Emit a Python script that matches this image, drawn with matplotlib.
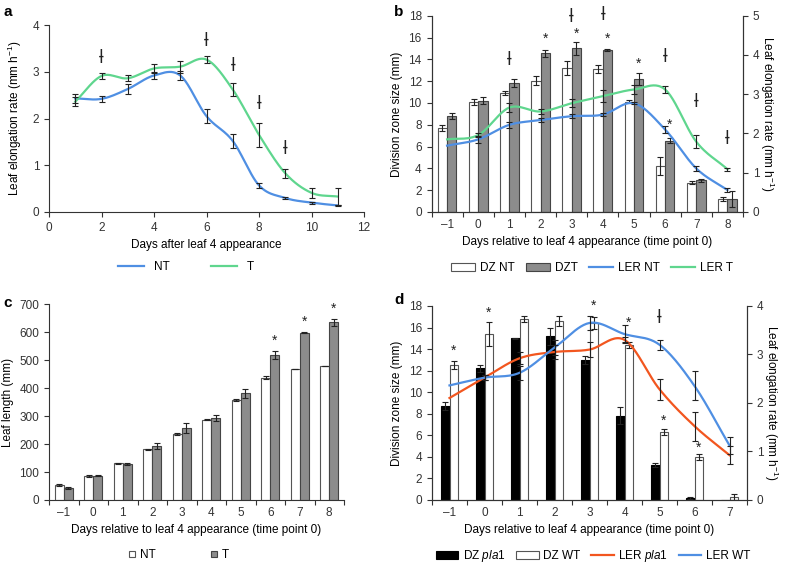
import numpy as np
import matplotlib
matplotlib.use("Agg")
import matplotlib.pyplot as plt
from matplotlib.lines import Line2D

plt.rcParams['font.family'] = ['Liberation Sans', 'DejaVu Sans']
plt.rcParams['font.size'] = 8.5
plt.rcParams['mathtext.fontset'] = 'custom'
plt.rcParams['mathtext.rm'] = 'Liberation Sans'
plt.rcParams['mathtext.it'] = 'Liberation Sans:italic'
plt.rcParams['axes.edgecolor'] = '#333333'
plt.rcParams['xtick.color'] = '#333333'
plt.rcParams['ytick.color'] = '#333333'

BLUE = '#4f8fe3'
GREEN = '#5fd68e'
ORANGE = '#f2561f'
GREY = '#8c8c8c'

# ---- panel a
days_a = [1, 2, 3, 4, 5, 6, 7, 8, 9, 10, 11]
ler_nt_a = [2.43, 2.42, 2.63, 2.92, 2.92, 2.05, 1.52, 0.57, 0.30, 0.20, 0.14]
ler_nt_a_err = [0.10, 0.07, 0.10, 0.08, 0.10, 0.15, 0.15, 0.06, 0.03, 0.02, 0.02]
ler_t_a = [2.36, 2.91, 2.86, 3.07, 3.11, 3.26, 2.62, 1.65, 0.83, 0.41, 0.33]
ler_t_a_err = [0.10, 0.07, 0.06, 0.10, 0.13, 0.08, 0.14, 0.25, 0.10, 0.10, 0.18]
dag_a_x = [2, 6, 7, 8, 9]
dag_a_y = [3.30, 3.65, 3.12, 2.30, 1.35]

# ---- panel b
days_b = [-1, 0, 1, 2, 3, 4, 5, 6, 7, 8]
dz_nt_b = [7.7, 10.1, 10.9, 12.05, 13.2, 13.1, 10.1, 4.2, 2.7, 1.2]
dz_nt_b_err = [0.25, 0.3, 0.2, 0.4, 0.65, 0.35, 0.15, 0.8, 0.15, 0.15]
dz_t_b = [8.8, 10.2, 11.8, 14.55, 15.0, 14.85, 12.15, 6.55, 2.9, 1.2]
dz_t_b_err = [0.3, 0.3, 0.35, 0.35, 0.6, 0.1, 0.55, 0.2, 0.15, 0.7]
ler_nt_b = [1.69, 1.85, 2.22, 2.34, 2.44, 2.48, 2.77, 2.10, 1.11, 0.56]
ler_nt_b_err = [0, 0.08, 0.07, 0.05, 0.05, 0.03, 0.02, 0.10, 0.07, 0.04]
ler_t_b = [1.85, 1.96, 2.66, 2.56, 2.77, 2.95, 3.12, 3.12, 1.79, 1.09]
ler_t_b_err = [0, 0.06, 0.12, 0.06, 0.10, 0.15, 0.12, 0.10, 0.17, 0.04]
dag_b_x = [1, 3, 4, 6, 7, 8]
dag_b_y = [13.9, 17.85, 18.1, 14.2, 10.05, 6.67]
star_b_x = [2, 3, 4, 5, 6]
star_b_y = [15.9, 16.3, 15.9, 13.6, 8.0]

# ---- panel c
days_c = [-1, 0, 1, 2, 3, 4, 5, 6, 7, 8]
len_nt = [54, 85, 132, 181, 236, 287, 357, 437, 468, 480]
len_nt_err = [3, 3, 2, 2, 4, 2, 3, 5, 1, 1]
len_t = [43, 87, 130, 193, 258, 294, 381, 518, 598, 635]
len_t_err = [4, 2, 4, 12, 18, 10, 15, 14, 2, 11]
star_c_x = [6, 7, 8]
star_c_y = [568, 637, 683]

# ---- panel d
days_d = [-1, 0, 1, 2, 3, 4, 5, 6, 7]
dz_pla = [8.7, 12.2, 15.0, 15.2, 13.0, 7.8, 3.2, 0.15, 0]
dz_pla_err = [0.4, 0.3, 0.05, 0.8, 0.4, 0.8, 0.2, 0.1, 0]
dz_wt = [12.5, 15.4, 16.8, 16.6, 16.45, 14.4, 6.3, 3.95, 0.25]
dz_wt_err = [0.35, 1.1, 0.3, 0.45, 0.55, 0.3, 0.25, 0.3, 0.25]
ler_pla = [2.1, 2.52, 2.92, 3.05, 3.1, 3.3, 2.28, 1.52, 0.92]
ler_pla_err = [0, 0.05, 0.12, 0.15, 0.15, 0.05, 0.22, 0.3, 0.18]
ler_wt = [2.36, 2.52, 2.62, 3.14, 3.65, 3.42, 3.2, 2.35, 1.12]
ler_wt_err = [0, 0.05, 0.15, 0.15, 0.14, 0.18, 0.1, 0.3, 0.18]
star_d_x = [-1, 0, 3, 4, 5, 6]
star_d_y = [13.8, 17.4, 18.0, 16.45, 7.3, 4.85]
dag_d_x = [5]
dag_d_y = [16.9]

W, H = 786, 562
ERR = dict(fmt='none', ecolor='#222222', elinewidth=0.8, capsize=2.2, capthick=0.8)


def box(l, t, r, b):
    return [l / W, 1 - b / H, (r - l) / W, (b - t) / H]


def smooth(x, y, n=24):
    # catmull-rom curve through the points, like the spreadsheet "smoothed line"
    x = np.asarray(x, float)
    y = np.asarray(y, float)
    px = np.concatenate([[2 * x[0] - x[1]], x, [2 * x[-1] - x[-2]]])
    py = np.concatenate([[2 * y[0] - y[1]], y, [2 * y[-1] - y[-2]]])
    t = np.linspace(0, 1, n, endpoint=False)
    xs, ys = [], []
    for i in range(1, len(px) - 2):
        for arr, out in ((px, xs), (py, ys)):
            p0, p1, p2, p3 = arr[i - 1:i + 3]
            out.append(0.5 * (2 * p1 + (p2 - p0) * t + (2 * p0 - 5 * p1 + 4 * p2 - p3) * t ** 2
                              + (3 * p1 - p0 - 3 * p2 + p3) * t ** 3))
    xs.append([x[-1]])
    ys.append([y[-1]])
    return np.concatenate(xs), np.concatenate(ys)


def marks(ax, xs, ys, sym, dx=0.0):
    for x, y in zip(xs, ys):
        if sym == '*':
            ax.text(x + dx, y, '*', ha='center', va='center', fontsize=10, color='#222222')
        else:
            ax.text(x + dx, y, '\u019a', ha='center', va='center', fontsize=12,
                    family='DejaVu Sans', color='#222222', clip_on=False)


def cat_axis(ax, cats):
    lo, hi = cats[0] - 0.5, cats[-1] + 0.5
    ax.set_xlim(lo, hi)
    ax.set_xticks(np.arange(lo, hi + 0.01, 1.0))
    ax.set_xticklabels([])
    ax.set_xticks(cats, minor=True)
    ax.set_xticklabels(['\u2013' + str(-c) if c < 0 else str(c) for c in cats], minor=True)
    ax.tick_params(axis='x', which='minor', length=0, pad=5)


def style(ax, right=False):
    ax.spines['top'].set_visible(False)
    if not right:
        ax.spines['right'].set_visible(False)
    ax.tick_params(direction='out', length=3.5, width=0.8)


fig = plt.figure(figsize=(W / 100, H / 100), dpi=100)

# ================= a
ax = fig.add_axes(box(49, 25, 364, 212))
style(ax)
xs, ys = smooth(days_a, ler_nt_a)
ax.plot(xs, ys, color=BLUE, lw=1.6, label='NT')
xs, ys = smooth(days_a, ler_t_a)
ax.plot(xs, ys, color=GREEN, lw=1.6, label='T')
ax.errorbar(days_a, ler_nt_a, yerr=ler_nt_a_err, **ERR)
ax.errorbar(days_a, ler_t_a, yerr=ler_t_a_err, **ERR)
marks(ax, dag_a_x, dag_a_y, 'dag')
ax.set_xlim(0, 12)
ax.set_ylim(0, 4)
ax.set_xticks(range(0, 13, 2))
ax.set_yticks(range(0, 5))
ax.set_xlabel('Days after leaf 4 appearance', labelpad=4)
ax.set_ylabel('Leaf elongation rate (mm h$^{-1}$)', labelpad=6)
ax.legend(loc='center', bbox_to_anchor=(186 / W, 1 - 267 / H), bbox_transform=fig.transFigure,
          ncol=2, frameon=False, handlelength=2.2, columnspacing=3.5, handletextpad=0.8)

# ================= b
ax = fig.add_axes(box(431.5, 15.7, 743, 212))
style(ax, right=True)
bx = np.array(days_b)
ax.bar(bx - 0.15, dz_nt_b, 0.3, color='white', edgecolor='#555555', lw=0.8, label='DZ NT')
ax.bar(bx + 0.15, dz_t_b, 0.3, color=GREY, edgecolor='#444444', lw=0.8, label='DZT')
ax.errorbar(bx - 0.15, dz_nt_b, yerr=dz_nt_b_err, **ERR)
ax.errorbar(bx + 0.15, dz_t_b, yerr=dz_t_b_err, **ERR)
marks(ax, dag_b_x, dag_b_y, 'dag')
marks(ax, star_b_x, star_b_y, '*', dx=0.15)
cat_axis(ax, days_b)
ax.set_ylim(0, 18)
ax.set_yticks(range(0, 19, 2))
ax.set_xlabel('Days relative to leaf 4 appearance (time point 0)', labelpad=4)
ax.set_ylabel('Division zone size (mm)', labelpad=4)
ax2 = ax.twinx()
style(ax2, right=True)
xs, ys = smooth(days_b, ler_nt_b)
ax2.plot(xs, ys, color=BLUE, lw=1.6, label='LER NT')
xs, ys = smooth(days_b, ler_t_b)
ax2.plot(xs, ys, color=GREEN, lw=1.6, label='LER T')
ax2.errorbar(days_b[1:], ler_nt_b[1:], yerr=ler_nt_b_err[1:], **ERR)
ax2.errorbar(days_b[1:], ler_t_b[1:], yerr=ler_t_b_err[1:], **ERR)
ax2.set_ylim(0, 5)
ax2.set_yticks(range(0, 6))
ax2.set_ylabel('Leaf elongation rate (mm h$^{-1}$)', rotation=270, labelpad=12)
h1, l1 = ax.get_legend_handles_labels()
h2, l2 = ax2.get_legend_handles_labels()
fig.legend(h1 + h2, l1 + l2, loc='center', bbox_to_anchor=(592 / W, 1 - 268 / H),
           ncol=4, frameon=False, handlelength=2.0, handleheight=0.7, columnspacing=1.0,
           handletextpad=0.4)

# ================= c
ax = fig.add_axes(box(49, 304.3, 344, 500))
style(ax)
cx = np.array(days_c)
ax.bar(cx - 0.15, len_nt, 0.3, color='white', edgecolor='#555555', lw=0.8)
ax.bar(cx + 0.15, len_t, 0.3, color=GREY, edgecolor='#444444', lw=0.8)
ax.errorbar(cx - 0.15, len_nt, yerr=len_nt_err, **ERR)
ax.errorbar(cx + 0.15, len_t, yerr=len_t_err, **ERR)
marks(ax, star_c_x, star_c_y, '*', dx=0.15)
cat_axis(ax, days_c)
ax.set_ylim(0, 700)
ax.set_yticks(range(0, 701, 100))
ax.set_xlabel('Days relative to leaf 4 appearance (time point 0)', labelpad=4)
ax.set_ylabel('Leaf length (mm)', labelpad=4)
hc = [Line2D([], [], ls='none', marker='s', ms=5, mfc='white', mec='#555555', mew=0.8),
      Line2D([], [], ls='none', marker='s', ms=5, mfc=GREY, mec='#444444', mew=0.8)]
fig.legend(hc, ['NT', 'T'], loc='center', bbox_to_anchor=(178 / W, 1 - 555 / H), ncol=2,
           frameon=False, handlelength=0.8, handletextpad=0.3, columnspacing=4.5)

# ================= d
ax = fig.add_axes(box(432, 306, 747, 499.7))
style(ax, right=True)
dx_ = np.array(days_d)
ax.bar(dx_ - 0.125, dz_pla, 0.25, color='black', edgecolor='black', lw=0.8, label='DZ $\\it{pla1}$')
ax.bar(dx_ + 0.125, dz_wt, 0.25, color='white', edgecolor='#555555', lw=0.8, label='DZ WT')
ax.errorbar(dx_[:-1] - 0.125, dz_pla[:-1], yerr=dz_pla_err[:-1], **ERR)
ax.errorbar(dx_ + 0.125, dz_wt, yerr=dz_wt_err, **ERR)
marks(ax, star_d_x, star_d_y, '*', dx=0.125)
marks(ax, dag_d_x, dag_d_y, 'dag')
cat_axis(ax, days_d)
ax.set_ylim(0, 18)
ax.set_yticks(range(0, 19, 2))
ax.set_xlabel('Days relative to leaf 4 appearance (time point 0)', labelpad=4)
ax.set_ylabel('Division zone size (mm)', labelpad=4)
ax2 = ax.twinx()
style(ax2, right=True)
xs, ys = smooth(days_d, ler_pla)
ax2.plot(xs, ys, color=ORANGE, lw=1.6, label='LER $\\it{pla1}$')
xs, ys = smooth(days_d, ler_wt)
ax2.plot(xs, ys, color=BLUE, lw=1.6, label='LER WT')
ax2.errorbar(days_d[1:], ler_pla[1:], yerr=ler_pla_err[1:], **ERR)
ax2.errorbar(days_d[1:], ler_wt[1:], yerr=ler_wt_err[1:], **ERR)
ax2.set_ylim(0, 4)
ax2.set_yticks(range(0, 5))
ax2.set_ylabel('Leaf elongation rate (mm h$^{-1}$)', rotation=270, labelpad=12)
h1, l1 = ax.get_legend_handles_labels()
h2, l2 = ax2.get_legend_handles_labels()
fig.legend(h1 + h2, l1 + l2, loc='center', bbox_to_anchor=(593 / W, 1 - 556 / H),
           ncol=4, frameon=False, handlelength=1.9, handleheight=0.7, columnspacing=0.9,
           handletextpad=0.4)

# panel letters
for lx, ly, s in [(3, 12, 'a'), (394, 12, 'b'), (3, 303, 'c'), (394, 300, 'd')]:
    fig.text(lx / W, 1 - ly / H, s, fontsize=11, weight='bold', va='center', ha='left')

fig.savefig('out.png', dpi=100)
